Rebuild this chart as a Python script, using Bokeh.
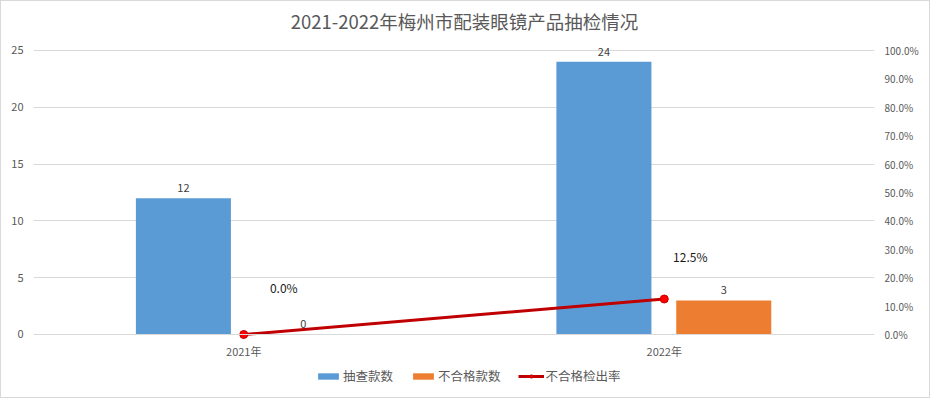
from bokeh.plotting import figure
from bokeh.models import (ColumnDataSource, FactorRange, Range1d, LinearAxis, Label,
                          NumeralTickFormatter, FixedTicker, Legend, LegendItem, LabelSet)
from bokeh.transform import dodge
from bokeh.core.properties import value
from bokeh.embed import file_html
from bokeh.resources import INLINE

# ---- data ----
title_text = "2021-2022年梅州市配装眼镜产品抽检情况"
years = ["2021年", "2022年"]
sampled = [12, 24]          # 抽查款数
unqualified = [0, 3]        # 不合格款数
rate = [0.0, 0.125]         # 不合格检出率
rate_text = ["0.0%", "12.5%"]
left_ticks = [0, 5, 10, 15, 20, 25]
right_ticks = [0.0, 0.1, 0.2, 0.3, 0.4, 0.5, 0.6, 0.7, 0.8, 0.9, 1.0]

FONT = "Noto Sans CJK SC"
GREY = "#595959"

# view extents (left-axis units); frame spans the whole height so title/legend fit inside
Y_LO, Y_HI = -5.634, 29.401
LEFT_MAX, PCT_MAX = 25.0, 1.0

src = ColumnDataSource(dict(
    year=years,
    sampled=sampled,
    unqualified=unqualified,
    rate=rate,
    sampled_txt=[str(v) for v in sampled],
    unq_txt=[str(v) for v in unqualified],
    rate_txt=rate_text,
    dx=[40, 26],
    dy=[47, 42],
))

p = figure(x_range=FactorRange(factors=years, range_padding=0),
           y_range=Range1d(Y_LO, Y_HI),
           frame_width=841, frame_height=398,
           output_backend="svg", toolbar_location=None,
           min_border_left=33, min_border_right=56,
           min_border_top=0, min_border_bottom=0,
           styles={"box-shadow": "inset 0 0 0 1px #D9D9D9"})
p.extra_y_ranges = {"pct": Range1d(Y_LO / LEFT_MAX * PCT_MAX, Y_HI / LEFT_MAX * PCT_MAX)}

p.outline_line_color = None
p.background_fill_color = None
p.border_fill_color = None
p.xgrid.grid_line_color = None
p.ygrid.ticker = FixedTicker(ticks=left_ticks)
p.ygrid.grid_line_color = "#D9D9D9"

# title
p.add_layout(Label(x=1.025, y=27.64, text=title_text, text_align="center",
                   text_baseline="middle", text_font=FONT, text_font_size="18.5px",
                   text_color=GREY))

# left axis
p.yaxis.ticker = FixedTicker(ticks=left_ticks)
p.yaxis.axis_line_color = None
p.yaxis.major_tick_line_color = None
p.yaxis.minor_tick_line_color = None
p.yaxis.major_tick_out = 0
p.yaxis.minor_tick_out = 0
p.yaxis.major_label_text_font = FONT
p.yaxis.major_label_text_font_size = "11px"
p.yaxis.major_label_text_color = GREY
p.yaxis.major_label_standoff = 10

# right axis
ra = LinearAxis(y_range_name="pct", ticker=FixedTicker(ticks=right_ticks),
                formatter=NumeralTickFormatter(format="0.0%"))
ra.axis_line_color = None
ra.major_tick_line_color = None
ra.minor_tick_line_color = None
ra.major_tick_out = 0
ra.minor_tick_out = 0
ra.major_label_text_font = FONT
ra.major_label_text_font_size = "10px"
ra.major_label_text_color = GREY
ra.major_label_standoff = 10
p.add_layout(ra, "right")

# x axis drawn at value 0
p.xaxis.fixed_location = 0
p.xaxis.axis_line_color = "#D9D9D9"
p.xaxis.major_tick_line_color = None
p.xaxis.minor_tick_line_color = None
p.xaxis.major_tick_out = 0
p.xaxis.minor_tick_out = 0
p.xaxis.major_label_text_font = FONT
p.xaxis.major_label_text_font_size = "11px"
p.xaxis.major_label_text_color = GREY
p.xaxis.major_label_standoff = 9

# bars
b1 = p.vbar(x=dodge("year", -0.1435, range=p.x_range), top="sampled", width=0.226,
            source=src, fill_color="#5B9BD5", line_color=None)
b2 = p.vbar(x=dodge("year", 0.1415, range=p.x_range), top="unqualified", width=0.226,
            source=src, fill_color="#ED7D31", line_color=None)

# rate line
ln = p.line(x="year", y="rate", y_range_name="pct", source=src,
            line_color="#C00000", line_width=3)
sc = p.scatter(x="year", y="rate", y_range_name="pct", source=src, size=8,
               fill_color="#FF0000", line_color="#C00000", line_width=1)

# data labels
for field, txt, off in (("sampled", "sampled_txt", -0.1435), ("unqualified", "unq_txt", 0.1415)):
    lbl = LabelSet(x=dodge("year", off, range=p.x_range), y=field, text=txt, source=src,
                   y_offset=6, text_align="center", text_baseline="bottom",
                   text_font=value(FONT), text_font_size="11px", text_color="#404040")
    p.add_layout(lbl)

rl = LabelSet(x="year", y="rate", y_range_name="pct", text="rate_txt", source=src,
              x_offset="dx", y_offset="dy", text_align="center", text_baseline="middle",
              text_font=value(FONT), text_font_size="12px", text_color="#1a1a1a")
p.add_layout(rl)

legend = Legend(items=[
    LegendItem(label="抽查款数", renderers=[b1]),
    LegendItem(label="不合格款数", renderers=[b2]),
    LegendItem(label="不合格检出率", renderers=[ln, sc]),
], orientation="horizontal", location=(282, 13))
legend.label_text_font = FONT
legend.label_text_font_size = "12.5px"
legend.label_text_color = GREY
legend.glyph_width = 26
legend.glyph_height = 8
legend.label_standoff = 2
legend.spacing = 17
legend.padding = 2
legend.margin = 0
legend.border_line_color = None
legend.background_fill_alpha = 0
p.add_layout(legend)

open("out.html", "w").write(file_html(p, INLINE))
